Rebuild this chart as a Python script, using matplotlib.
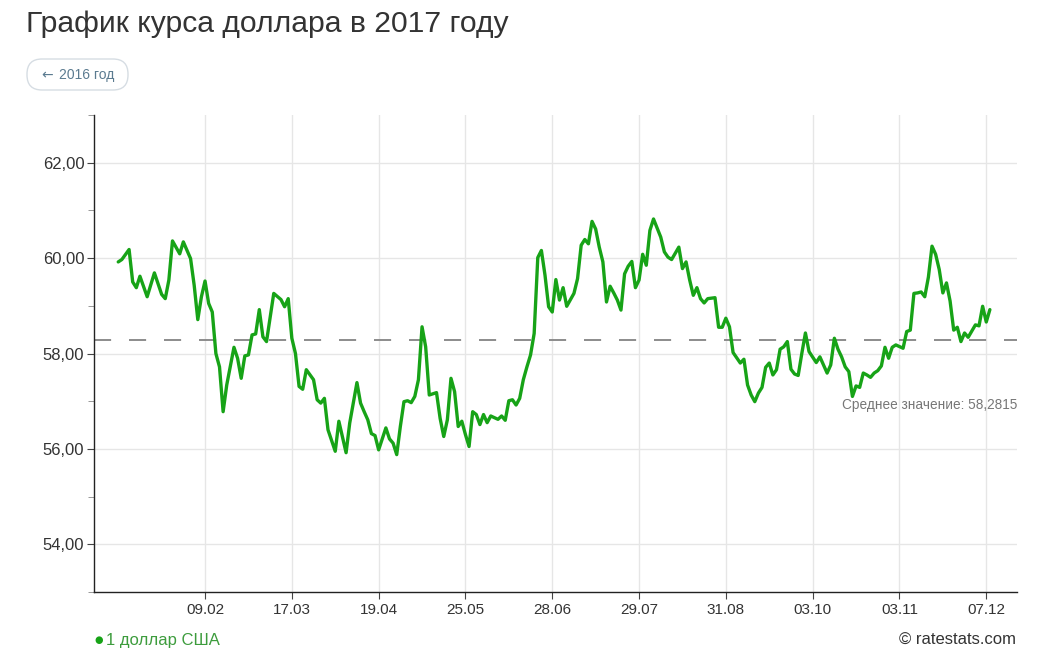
import matplotlib
matplotlib.use("Agg")
import matplotlib.pyplot as plt
from matplotlib.patches import FancyBboxPatch
from matplotlib.transforms import IdentityTransform
from matplotlib.ticker import MultipleLocator, FixedLocator

plt.rcParams['font.family'] = ['Liberation Sans', 'DejaVu Sans']

# ---- data: trading-day number -> USD rate (RUB) ----
day_index = [0, 1, 3, 4, 5, 6, 8, 10, 12, 13, 14, 15, 17, 18, 20, 21, 22, 23, 24, 25,
             26, 27, 28, 29, 30, 32, 33, 34, 35, 36, 37, 38, 39, 40, 41, 43, 45, 46, 47, 48,
             49, 50, 51, 52, 54, 55, 56, 57, 58, 60, 61, 63, 64, 66, 67, 68, 69, 70, 71, 72,
             74, 75, 76, 77, 78, 79, 80, 81, 82, 83, 84, 85, 86, 88, 89, 90, 91, 92, 93, 94,
             95, 96, 97, 98, 99, 100, 101, 102, 103, 105, 106, 107, 108, 109, 110, 111, 112, 113, 114, 115,
             116, 117, 118, 119, 120, 121, 122, 123, 124, 126, 127, 128, 129, 130, 131, 132, 133, 134, 135, 136,
             137, 138, 139, 140, 141, 142, 143, 144, 145, 146, 147, 148, 150, 151, 152, 153, 155, 156, 157, 158,
             159, 160, 161, 162, 163, 165, 166, 167, 168, 169, 170, 172, 173, 174, 175, 176, 177, 178, 179, 180,
             181, 182, 183, 184, 185, 186, 187, 188, 189, 190, 191, 193, 194, 195, 196, 197, 198, 199, 200, 201,
             202, 203, 204, 205, 206, 207, 208, 209, 210, 211, 212, 213, 214, 215, 217, 218, 219, 220, 221, 222,
             223, 224, 225, 226, 227, 228, 229, 230, 231, 232, 233, 234, 235, 237, 238, 239, 240, 241]
usd_rate = [59.92, 59.97, 60.18, 59.50, 59.38, 59.62, 59.19, 59.69, 59.24, 59.15, 59.54, 60.36, 60.09, 60.34, 59.99, 59.43, 58.71, 59.19, 59.52, 59.05,
            58.87, 58.00, 57.72, 56.78, 57.34, 58.13, 57.90, 57.48, 57.95, 57.97, 58.39, 58.41, 58.92, 58.35, 58.25, 59.26, 59.13, 58.98, 59.15, 58.32,
            58.00, 57.31, 57.25, 57.66, 57.45, 57.03, 56.96, 57.06, 56.40, 55.95, 56.58, 55.92, 56.54, 57.39, 56.96, 56.78, 56.61, 56.32, 56.28, 55.98,
            56.44, 56.21, 56.12, 55.88, 56.47, 56.99, 57.01, 56.97, 57.10, 57.45, 58.56, 58.14, 57.13, 57.18, 56.64, 56.26, 56.61, 57.48, 57.20, 56.47,
            56.58, 56.30, 56.05, 56.78, 56.72, 56.51, 56.72, 56.55, 56.69, 56.62, 56.69, 56.60, 57.01, 57.03, 56.92, 57.06, 57.45, 57.72, 57.97, 58.42,
            60.01, 60.16, 59.64, 58.98, 58.87, 59.55, 59.12, 59.38, 58.99, 59.26, 59.57, 60.27, 60.39, 60.30, 60.77, 60.61, 60.23, 59.92, 59.08, 59.41,
            59.27, 59.12, 58.91, 59.67, 59.83, 59.93, 59.38, 59.54, 60.08, 59.85, 60.58, 60.82, 60.44, 60.13, 60.02, 59.97, 60.23, 59.78, 59.92, 59.54,
            59.22, 59.38, 59.15, 59.06, 59.15, 59.17, 58.55, 58.55, 58.74, 58.56, 58.02, 57.80, 57.88, 57.34, 57.13, 56.99, 57.17, 57.29, 57.71, 57.80,
            57.55, 57.66, 58.09, 58.14, 58.25, 57.67, 57.57, 57.54, 58.00, 58.43, 58.04, 57.81, 57.93, 57.76, 57.59, 57.76, 58.32, 58.09, 57.93, 57.72,
            57.62, 57.10, 57.32, 57.29, 57.59, 57.55, 57.50, 57.59, 57.64, 57.74, 58.13, 57.90, 58.13, 58.18, 58.11, 58.46, 58.49, 59.26, 59.27, 59.29,
            59.19, 59.60, 60.25, 60.08, 59.76, 59.27, 59.48, 59.10, 58.49, 58.55, 58.25, 58.43, 58.34, 58.60, 58.58, 58.99, 58.66, 58.92]

tick_index = [24, 48, 72, 96, 120, 144, 168, 192, 216, 240]
tick_labels = ['09.02', '17.03', '19.04', '25.05', '28.06', '29.07', '31.08', '03.10', '03.11', '07.12']
mean_value = 58.2815
y_major = [54, 56, 58, 60, 62]

# ---- figure ----
W, H = 1048, 660
fig = plt.figure(figsize=(W / 100, H / 100), dpi=100)
ax = fig.add_axes([94 / W, 1 - 592 / H, (1017 - 94) / W, (592 - 115) / H])

ax.plot(day_index, usd_rate, color='#17a317', lw=2.4, solid_joinstyle='round',
        solid_capstyle='round', zorder=3)
ax.axhline(mean_value, color='#8c8c8c', lw=1.4, dashes=(8.8, 9.2), zorder=2)

ax.set_xlim(-6.7, 248.5)
ax.set_ylim(53, 63)

ax.yaxis.set_major_locator(FixedLocator(y_major))
ax.yaxis.set_minor_locator(MultipleLocator(1))
ax.set_yticklabels([f"{v:.2f}".replace('.', ',') for v in y_major])
ax.set_xticks(tick_index)
ax.set_xticklabels(tick_labels)

ax.grid(True, which='major', color='#e6e6e6', lw=1.0, zorder=0)
for s in ['top', 'right']:
    ax.spines[s].set_visible(False)
for s in ['left', 'bottom']:
    ax.spines[s].set_color('#222222')
    ax.spines[s].set_linewidth(1.0)

ax.tick_params(axis='y', which='major', length=5, color='#444444', labelsize=12,
               labelcolor='#333333', pad=2)
ax.tick_params(axis='y', which='minor', length=4, color='#888888')
ax.tick_params(axis='x', which='major', length=5, color='#444444', labelsize=11,
               labelcolor='#333333', pad=3)

ax.text(1.0, (mean_value - 1.36 - 53) / 10, 'Среднее значение: 58,2815', transform=ax.transAxes,
        ha='right', va='center', fontsize=9.8, color='#777777')

# ---- title, button, footer ----
fig.text(26 / W, 1 - 24 / H, 'График курса доллара в 2017 году', ha='left', va='center',
         fontsize=21.7, color='#333333')

btn = FancyBboxPatch((27, H - 90), 101, 31,
                     boxstyle='round,pad=0,rounding_size=15',
                     transform=IdentityTransform(), facecolor='white',
                     edgecolor='#d6dde3', lw=1.0)
fig.patches.append(btn)
fig.text(41 / W, 1 - 75 / H, '←', ha='left', va='center',
         fontsize=10, color='#5b7b90', family='DejaVu Sans')
fig.text(59 / W, 1 - 75 / H, '2016 год', ha='left', va='center',
         fontsize=10, color='#5b7b90')

fig.text(94 / W, 1 - 640 / H, '●', ha='left', va='center', fontsize=7, color='#17a317',
         family='DejaVu Sans')
fig.text(106 / W, 1 - 640 / H, '1 доллар США', ha='left', va='center',
         fontsize=12, color='#3d9c3d')
fig.text(1016 / W, 1 - 640 / H, '© ratestats.com', ha='right', va='center',
         fontsize=12, color='#333333')

fig.savefig('out.png', dpi=100, facecolor='white')
